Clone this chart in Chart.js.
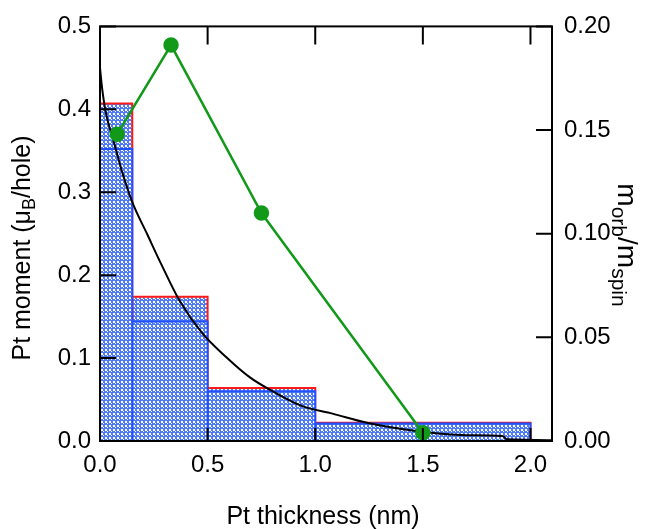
<!DOCTYPE html>
<html>
<head>
<meta charset="utf-8">
<script src="https://cdn.jsdelivr.net/npm/chart.js@4.4.1/dist/chart.umd.min.js"></script>
<style>
  html, body { margin: 0; padding: 0; background: #fff; }
  #wrap { width: 651px; height: 529px; }
</style>
</head>
<body>
<div id="wrap"><canvas id="mycanvas" width="651" height="529"></canvas></div>
<script>
// histogram bins (nm) and Pt moments (muB/hole)
var binEdges = [0, 0.15, 0.5, 1.0, 2.0];
var totalMoment = [0.407, 0.174, 0.064, 0.022];
var spinMoment = [0.352, 0.144, 0.060, 0.021];

// decay curve (left axis)
var curveX = [0, 0.01, 0.028, 0.065, 0.1, 0.15, 0.22, 0.285, 0.37, 0.475, 0.587, 0.695, 0.788, 0.94, 1.08, 1.24, 1.47, 1.7, 1.87, 1.89, 2.1];
var curveY = [0.45, 0.425, 0.395, 0.36, 0.327, 0.288, 0.249, 0.213, 0.169, 0.13, 0.101, 0.077, 0.062, 0.042, 0.033, 0.022, 0.012, 0.007, 0.006, 0.002, 0.001];

// morb/mspin (right axis)
var ratioX = [0.08, 0.33, 0.75, 1.5];
var ratioY = [0.148, 0.191, 0.110, 0.004];

var xTicks = [0, 0.5, 1.0, 1.5, 2.0];
var leftTicks = [0, 0.1, 0.2, 0.3, 0.4, 0.5];
var rightTicks = [0, 0.05, 0.10, 0.15, 0.20];

var FONT = "'Liberation Sans', Arial, sans-serif";

// dotted blue fill
function makePattern() {
  var c = document.createElement('canvas');
  c.width = 4; c.height = 4;
  var g = c.getContext('2d');
  g.fillStyle = '#4f7cf2';
  g.fillRect(0, 0, 4, 4);
  g.fillStyle = '#ffffff';
  g.fillRect(1, 1, 2, 2);
  g.fillRect(3, 3, 1, 1);
  return document.getElementById('mycanvas').getContext('2d').createPattern(c, 'repeat');
}
var dots = makePattern();

function binBox(i, h) {
  return [
    {x: binEdges[i], y: 0}, {x: binEdges[i], y: h},
    {x: binEdges[i + 1], y: h}, {x: binEdges[i + 1], y: 0}
  ];
}

var datasets = [];
for (var i = 0; i < totalMoment.length; i++) {
  datasets.push({
    data: binBox(i, totalMoment[i]), yAxisID: 'y', showLine: true, fill: 'origin',
    borderColor: '#ff1a1a', borderWidth: 2, backgroundColor: dots, pointRadius: 0, order: 4
  });
  datasets.push({
    data: binBox(i, spinMoment[i]), yAxisID: 'y', showLine: true, fill: 'origin',
    borderColor: '#1f4fff', borderWidth: 2, backgroundColor: dots, pointRadius: 0, order: 3
  });
}
var curve = [];
for (var i in curveX) curve.push({x: curveX[i], y: curveY[i]});
datasets.push({
  data: curve, yAxisID: 'y', showLine: true, borderColor: '#000', borderWidth: 2,
  pointRadius: 0, cubicInterpolationMode: 'monotone', order: 2
});
var ratio = [];
for (var i in ratioX) ratio.push({x: ratioX[i], y: ratioY[i]});
datasets.push({
  data: ratio, yAxisID: 'y1', showLine: true, borderColor: '#12991a', borderWidth: 2.5,
  pointRadius: 6.5, pointBackgroundColor: '#12991a', pointBorderColor: '#12991a', order: 1
});

function fixTicks(list) {
  return function(s) { s.ticks = list.map(function(v) { return {value: v}; }); };
}

// frame, inside ticks and axis titles with subscripts
var framePlugin = {
  id: 'frame',
  afterDraw: function(chart) {
    var ctx = chart.ctx, a = chart.chartArea, sx = chart.scales.x, sy = chart.scales.y, sr = chart.scales.y1;
    ctx.save();
    ctx.strokeStyle = '#000';
    ctx.lineWidth = 2;
    ctx.strokeRect(a.left, a.top, a.right - a.left, a.bottom - a.top);
    ctx.beginPath();
    xTicks.forEach(function(v) {
      var px = sx.getPixelForValue(v);
      ctx.moveTo(px, a.bottom); ctx.lineTo(px, a.bottom - 13);
      ctx.moveTo(px, a.top); ctx.lineTo(px, a.top + 18);
    });
    leftTicks.forEach(function(v) {
      var py = sy.getPixelForValue(v);
      ctx.moveTo(a.left, py); ctx.lineTo(a.left + 16, py);
    });
    rightTicks.forEach(function(v) {
      var py = sr.getPixelForValue(v);
      ctx.moveTo(a.right, py); ctx.lineTo(a.right - 16, py);
    });
    ctx.stroke();

    ctx.fillStyle = '#000';
    ctx.textBaseline = 'alphabetic';
    ctx.font = '25px ' + FONT;
    ctx.textAlign = 'center';
    ctx.fillText('Pt thickness (nm)', (a.left + a.right) / 2 - 3, 524);

    function fontFor(p, big, small) { return (p[1] ? small : big) + 'px ' + FONT; }
    function drawRuns(parts, cx, cy, rot, big, small, base, sub) {
      ctx.save();
      ctx.translate(cx, cy);
      ctx.rotate(rot);
      ctx.textAlign = 'left';
      var w = 0;
      parts.forEach(function(p) { ctx.font = fontFor(p, big, small); w += ctx.measureText(p[0]).width; });
      var x = -w / 2;
      parts.forEach(function(p) {
        ctx.font = fontFor(p, big, small);
        ctx.fillText(p[0], x, p[1] ? sub : base);
        x += ctx.measureText(p[0]).width;
      });
      ctx.restore();
    }
    drawRuns([['Pt moment (\u03bc', 0], ['B', 1], ['/hole)', 0]], 21, 248, -Math.PI / 2, 25, 18, 9, 14);
    drawRuns([['m', 0], ['orb', 1], ['/m', 0], ['spin', 1]], 631, 245, Math.PI / 2, 28, 21, 13, 19);
    ctx.restore();
  }
};

var ctx = document.getElementById('mycanvas');
var chart = new Chart(ctx, {
  type: 'scatter',
  data: {datasets: datasets},
  plugins: [framePlugin],
  options: {
    responsive: false,
    animation: false,
    layout: {padding: {top: 22, left: 0, right: 0, bottom: 0}},
    plugins: {legend: {display: false}, tooltip: {enabled: false}},
    scales: {
      x: {
        type: 'linear', min: 0, max: 2.1,
        afterBuildTicks: fixTicks(xTicks),
        afterFit: function(s) { s.height = 88; },
        grid: {display: false, drawTicks: false},
        border: {display: false},
        ticks: {padding: 10, color: '#000', font: {size: 24, family: FONT},
          callback: function(v) { return v.toFixed(1); }}
      },
      y: {
        type: 'linear', position: 'left', min: 0, max: 0.5,
        afterBuildTicks: fixTicks(leftTicks),
        afterFit: function(s) { s.width = 100; },
        grid: {display: false, drawTicks: false},
        border: {display: false},
        ticks: {padding: 9, color: '#000', font: {size: 24, family: FONT},
          callback: function(v) { return v.toFixed(1); }}
      },
      y1: {
        type: 'linear', position: 'right', min: 0, max: 0.2,
        afterBuildTicks: fixTicks(rightTicks),
        afterFit: function(s) { s.width = 99; },
        grid: {display: false, drawTicks: false},
        border: {display: false},
        ticks: {padding: 12, color: '#000', font: {size: 24, family: FONT},
          callback: function(v) { return v.toFixed(2); }}
      }
    }
  }
});
</script>
</body>
</html>
